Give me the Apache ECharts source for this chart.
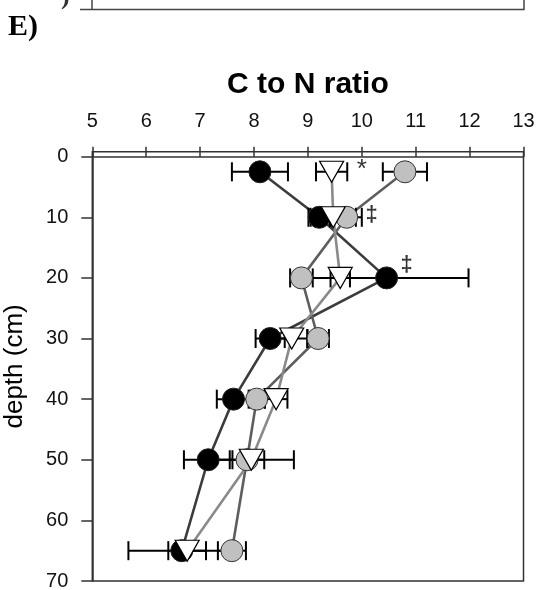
<!DOCTYPE html>
<html>
<head>
<meta charset="utf-8">
<script src="https://cdn.jsdelivr.net/npm/echarts@6/dist/echarts.min.js"></script>
<style>
  html, body { margin: 0; padding: 0; background: #fff; }
  #chart { width: 537px; height: 590px; }
</style>
</head>
<body>
<div id="chart"></div>
<script>
// Sampling depths (cm)
const depths = [2.5, 10, 20, 30, 40, 50, 65];

// C:N ratio means and standard errors for the three treatments
const blackMean = [8.11, 9.21, 10.46, 8.30, 7.62, 7.15, 6.66];
const blackErr  = [0.52, 0.20, 1.52, 0.27, 0.31, 0.45, 0.99];
const triMean   = [9.44, 9.47, 9.60, 8.70, 8.41, 7.95, 6.76];
const triErr    = [0.29, 0.42, 0.18, 0.29, 0.21, 0.79, 0.35];
const grayMean  = [10.80, 9.72, 8.88, 9.19, 8.05, 7.87, 7.59];
const grayErr   = [0.41, 0.28, 0.21, 0.20, 0.15, 0.32, 0.26];

// Axis ticks
const xTicks = [5, 6, 7, 8, 9, 10, 11, 12, 13];
const yTicks = [0, 10, 20, 30, 40, 50, 60, 70];

// Significance markers next to depth rows
const noteText   = ['*', '\u2021', '\u2021'];
const noteX      = [10.0, 10.18, 10.83];
const noteDepth  = [2.2, 9.6, 17.8];
const noteSize   = [26, 22, 22];
const noteWeight = ['normal', 'bold', 'bold'];

const FONT = 'Liberation Sans, Arial, sans-serif';
const AXIS_COLOR = '#333';

function pairs(means) {
  return depths.map((d, i) => [means[i], d]);
}

function lineSeries(means, color) {
  return {
    type: 'line',
    data: pairs(means),
    showSymbol: false,
    silent: true,
    z: 2,
    lineStyle: { color: color, width: 2.6 },
    animation: false
  };
}

function errorSeries(means, errs) {
  return {
    type: 'custom',
    silent: true,
    z: 3,
    animation: false,
    data: depths.map((d, i) => [means[i] - errs[i], means[i] + errs[i], d]),
    encode: { x: [0, 1], y: 2 },
    renderItem: function (params, api) {
      const lo = api.coord([api.value(0), api.value(2)]);
      const hi = api.coord([api.value(1), api.value(2)]);
      const h = 9.5;
      const st = { stroke: '#000', lineWidth: 2 };
      return {
        type: 'group',
        children: [
          { type: 'line', shape: { x1: lo[0], y1: lo[1], x2: hi[0], y2: hi[1] }, style: st },
          { type: 'line', shape: { x1: lo[0], y1: lo[1] - h, x2: lo[0], y2: lo[1] + h }, style: st },
          { type: 'line', shape: { x1: hi[0], y1: hi[1] - h, x2: hi[0], y2: hi[1] + h }, style: st }
        ]
      };
    }
  };
}

function markerSeries(means, opts) {
  return Object.assign({
    type: 'scatter',
    data: pairs(means),
    silent: true,
    animation: false
  }, opts);
}

const chart = echarts.init(document.getElementById('chart'), null, { renderer: 'canvas' });

chart.setOption({
  backgroundColor: '#fff',
  animation: false,
  grid: {
    left: 92.3, right: 13.5, top: 151.8, bottom: 9,
    outerBoundsMode: 'none',
    containLabel: false,
    show: true, borderColor: AXIS_COLOR, borderWidth: 1.5,
    backgroundColor: 'transparent'
  },
  xAxis: {
    type: 'value',
    position: 'top',
    min: 5, max: 13, interval: 1,
    name: 'C to N ratio',
    nameLocation: 'middle',
    nameGap: 52,
    nameTextStyle: { fontFamily: FONT, fontSize: 30, fontWeight: 'bold', color: '#000' },
    axisLine: { show: true, lineStyle: { color: AXIS_COLOR, width: 1.5 } },
    axisTick: { show: true, inside: false, length: 10, lineStyle: { color: AXIS_COLOR, width: 1.5 } },
    axisLabel: { margin: 20, fontSize: 20, fontFamily: FONT, color: '#111',
                 customValues: xTicks },
    splitLine: { show: false }
  },
  yAxis: {
    type: 'value',
    inverse: true,
    min: -0.8, max: 70,
    name: 'depth (cm)',
    nameLocation: 'middle',
    nameGap: 64,
    nameRotate: 90,
    nameTextStyle: { fontFamily: FONT, fontSize: 26, color: '#000' },
    axisLine: { show: true, lineStyle: { color: AXIS_COLOR, width: 1.5 } },
    axisTick: { show: true, inside: false, length: 11, lineStyle: { color: AXIS_COLOR, width: 1.5 },
                customValues: yTicks },
    axisLabel: { margin: 24, fontSize: 20, fontFamily: FONT, color: '#111',
                 customValues: yTicks },
    splitLine: { show: false }
  },
  graphic: [
    // panel letter
    {
      type: 'text', left: 8, top: 12, silent: true,
      style: { text: 'E)', font: 'bold 30px "Liberation Serif", "Times New Roman", serif', fill: '#000' }
    },
    // edge of the panel above
    {
      type: 'polyline', silent: true,
      shape: { points: [[80, 9.5], [524, 9.5], [524, 0]] },
      style: { stroke: '#444', lineWidth: 1.5, fill: null }
    },
    {
      type: 'line', silent: true,
      shape: { x1: 92, y1: 0, x2: 92, y2: 9.5 },
      style: { stroke: '#444', lineWidth: 1.5 }
    },
    {
      type: 'text', left: 61, top: -16, silent: true,
      style: { text: ')', font: 'bold 26px "Liberation Serif", serif', fill: '#333' }
    }
  ],
  series: [
    lineSeries(blackMean, '#3c3c3c'),
    lineSeries(grayMean, '#5e5e5e'),
    lineSeries(triMean, '#8a8a8a'),
    errorSeries(blackMean, blackErr),
    errorSeries(grayMean, grayErr),
    errorSeries(triMean, triErr),
    markerSeries(blackMean, {
      z: 4, symbol: 'circle', symbolSize: 22,
      itemStyle: { color: '#000', borderColor: '#222', borderWidth: 1, opacity: 1 }
    }),
    markerSeries(grayMean, {
      z: 5, symbol: 'circle', symbolSize: 22,
      itemStyle: { color: '#c0c0c0', borderColor: '#333', borderWidth: 1, opacity: 1 }
    }),
    markerSeries(triMean, {
      z: 6, symbol: 'triangle', symbolRotate: 180, symbolSize: [24, 21],
      itemStyle: { color: '#fff', borderColor: '#000', borderWidth: 1.2, opacity: 1 }
    }),
    {
      type: 'scatter',
      silent: true,
      z: 7,
      symbolSize: 0,
      data: noteText.map((t, i) => ({
        value: [noteX[i], noteDepth[i]],
        name: t,
        label: { fontSize: noteSize[i], fontWeight: noteWeight[i] }
      })),
      label: {
        show: true, position: 'inside',
        formatter: p => p.name,
        fontFamily: FONT, color: '#000'
      },
      animation: false
    }
  ]
});
</script>
</body>
</html>
